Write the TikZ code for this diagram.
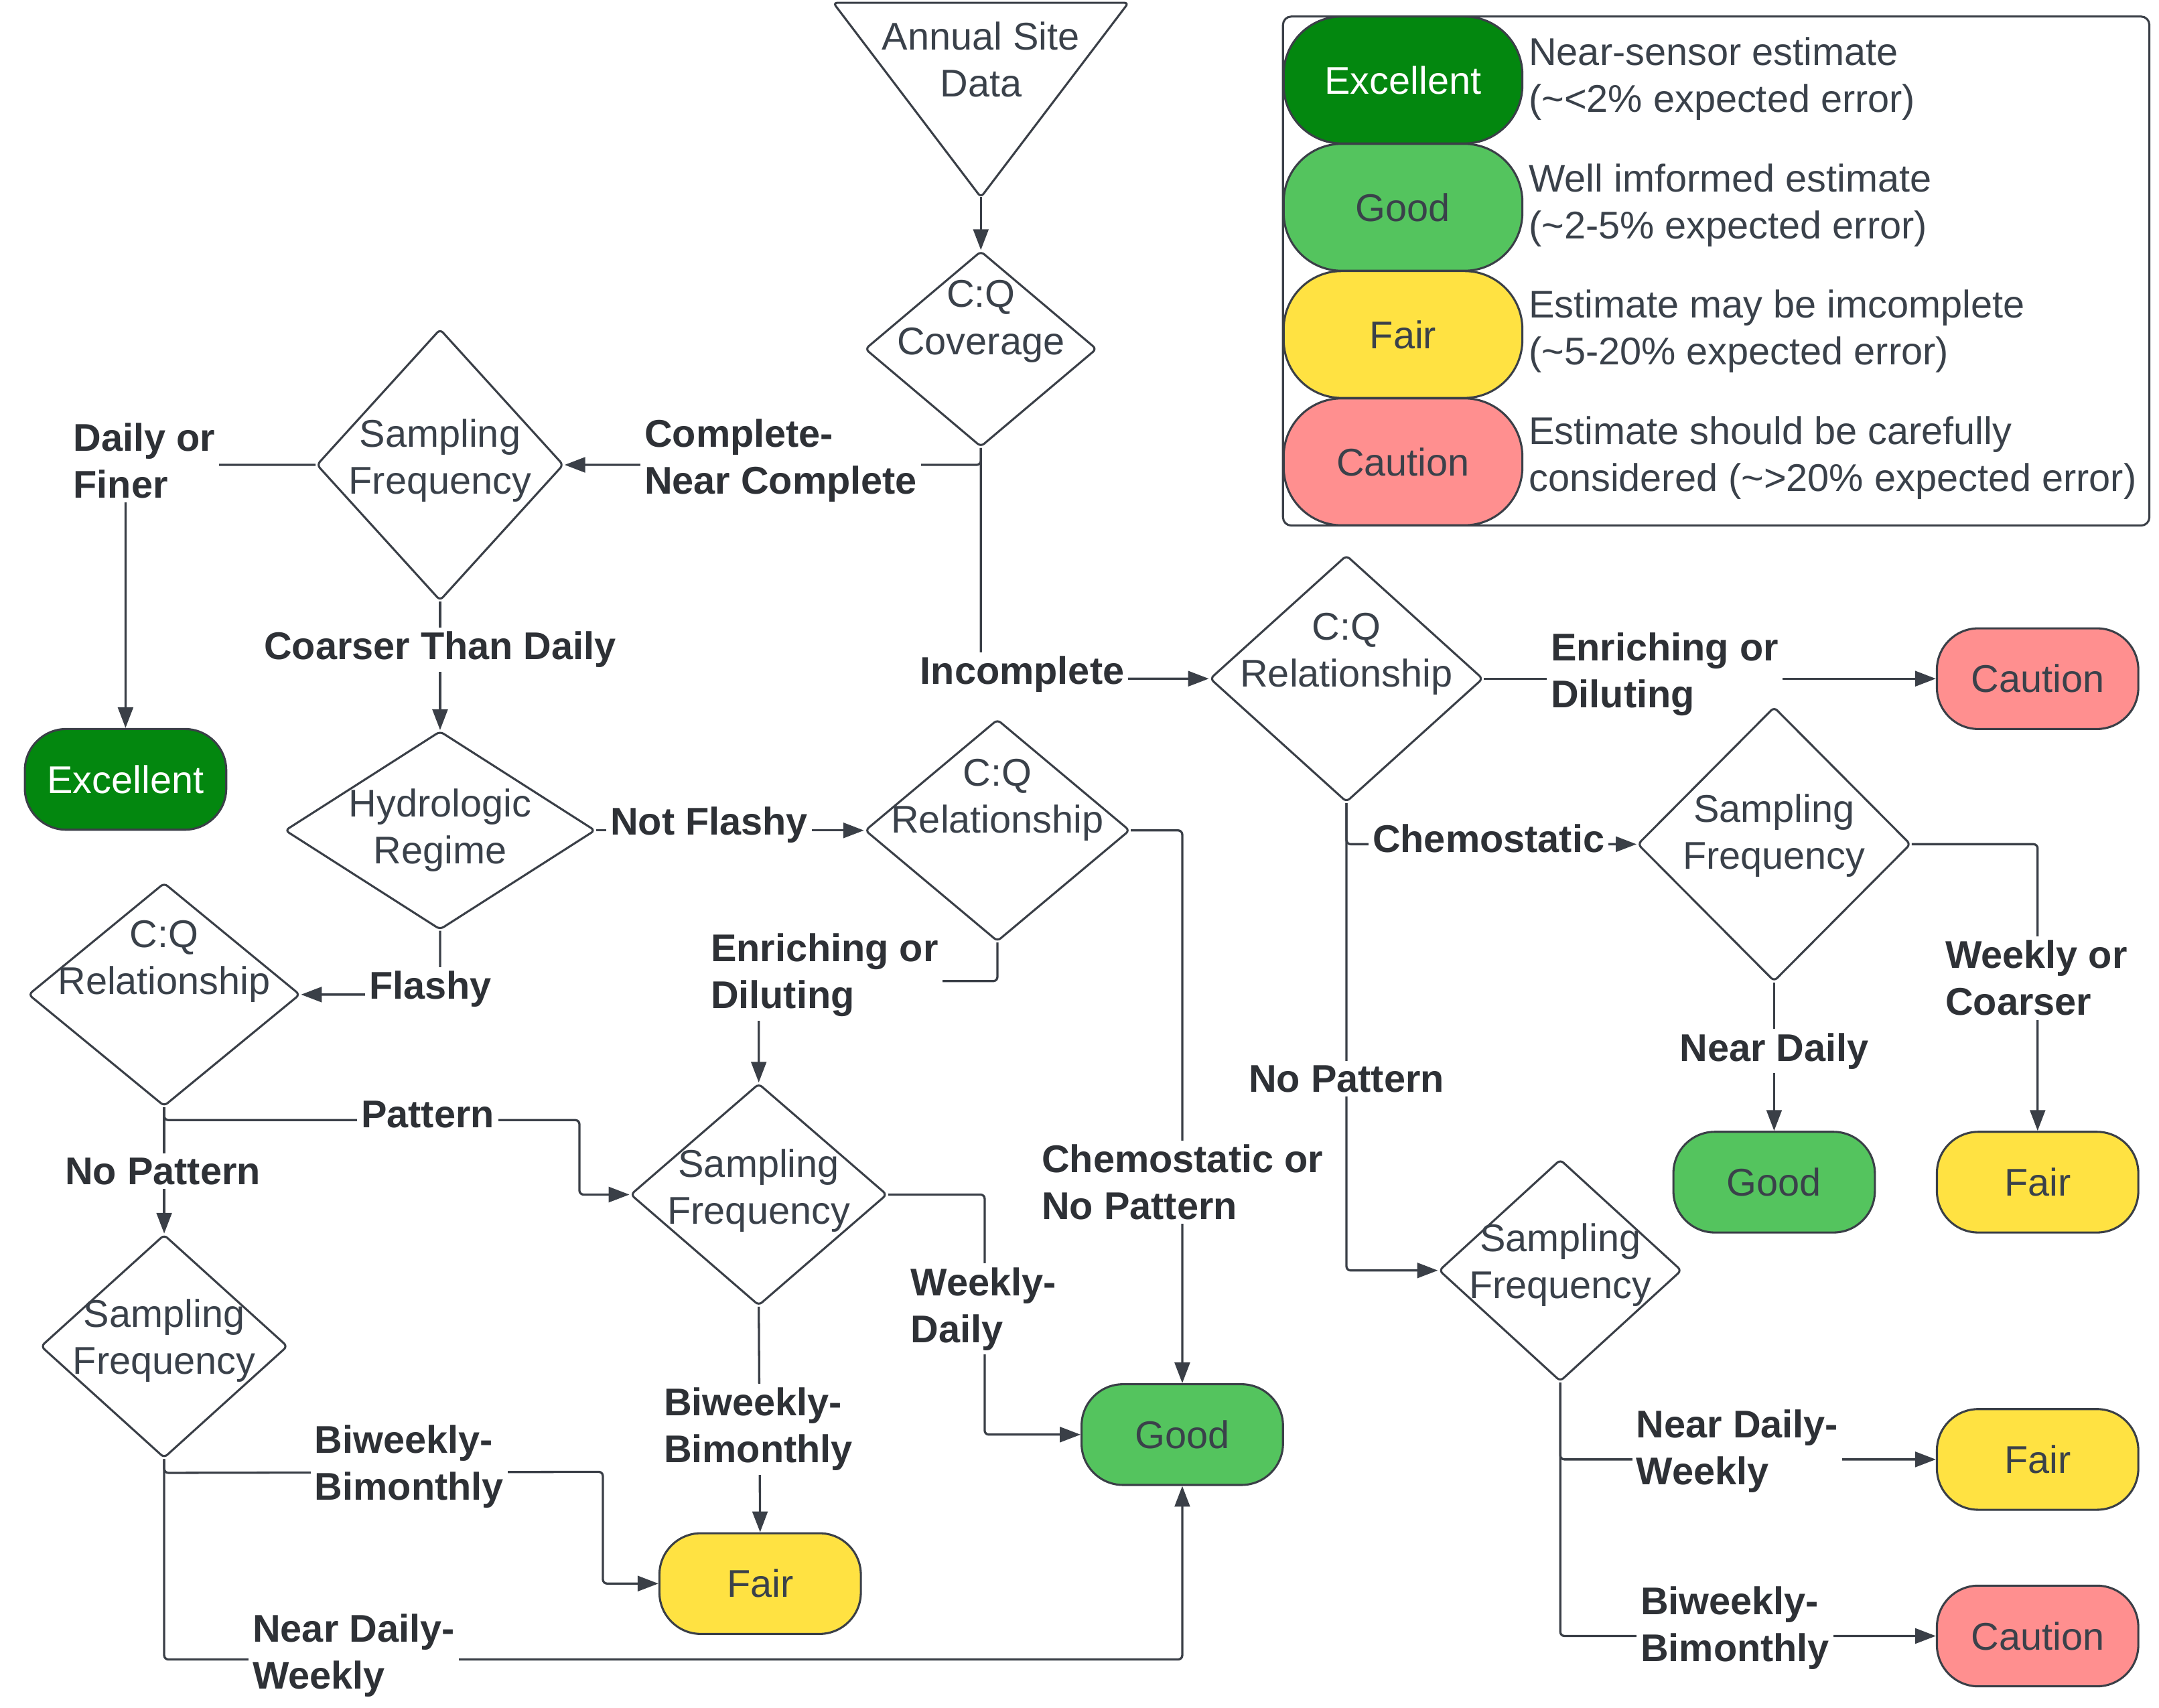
\documentclass[tikz,border=0pt]{standalone}
\usepackage{fontspec}
\setmainfont{Liberation Sans}
\usetikzlibrary{shapes.geometric,arrows.meta,calc}
\pgfdeclarelayer{edges}
\pgfdeclarelayer{labels}
\pgfsetlayers{edges,labels,main}
\definecolor{linec}{HTML}{3A3F47}
\definecolor{txtc}{HTML}{3A414A}
\definecolor{labc}{HTML}{2E3136}
\definecolor{excc}{HTML}{03870F}
\definecolor{goodc}{HTML}{54C45E}
\definecolor{fairc}{HTML}{FFE242}
\definecolor{cautc}{HTML}{FF8F8F}
\begin{document}
\begin{tikzpicture}[x=1pt,y=1pt,
  every node/.style={font=\fontsize{28}{34}\selectfont, text=txtc},
  dia/.style={diamond, draw=linec, line width=1.5pt, inner sep=0pt, rounded corners=3pt, fill=white},
  term/.style={rectangle, draw=linec, line width=1.5pt, rounded corners=30pt, minimum width=146pt, minimum height=73pt, inner sep=0pt},
  legterm/.style={term, minimum width=173pt, minimum height=92pt, rounded corners=42pt},
  conn/.style={draw=linec, line width=1.6pt, rounded corners=3pt, -{Triangle[length=15pt,width=11pt]}},
  lab/.style={fill=white, font=\fontsize{28}{34}\selectfont\bfseries, text=labc, inner sep=3pt, align=left},
  dtext/.style={align=center, inner sep=0pt},
  legtext/.style={align=left, anchor=west, inner sep=0pt},
]
\useasboundingbox (0,0) rectangle (1565,-1238);

% ---------- legend ----------
\draw[draw=linec, line width=1.5pt, rounded corners=6pt] (930,-12) rectangle (1558,-381);
\node[legterm, fill=excc, text=white] (lexc) at (1017,-58) {Excellent};
\node[legterm, fill=goodc] (lgood) at (1017,-150.3) {Good};
\node[legterm, fill=fairc] (lfair) at (1017,-242.5) {Fair};
\node[legterm, fill=cautc] (lcaut) at (1017,-334.8) {Caution};
\node[legtext] (t1) at (1108,-57) {Near-sensor estimate\\(\textasciitilde<2\% expected error)};
\node[legtext] (t2) at (1108,-149) {Well imformed estimate\\(\textasciitilde2-5\% expected error)};
\node[legtext] (t3) at (1108,-240) {Estimate may be imcomplete\\(\textasciitilde5-20\% expected error)};
\node[legtext] (t4) at (1108,-332) {Estimate should be carefully\\considered (\textasciitilde>20\% expected error)};

% ---------- start ----------
\draw[draw=linec, line width=1.5pt, rounded corners=3pt, fill=white] (604,-2) -- (818,-2) -- (711,-143) -- cycle;
\coordinate (asdtip) at (711,-143);
\node[dtext] (asd) at (711,-43) {Annual Site\\Data};

% ---------- diamonds ----------
\node[dia, minimum width=168pt, minimum height=142pt] (cov) at (711,-253) {};
\node[dia, minimum width=179pt, minimum height=197pt] (sf1) at (319,-337) {};
\node[dia, minimum width=225pt, minimum height=144pt] (hyd) at (319,-602) {};
\node[dia, minimum width=192pt, minimum height=161pt] (cqm) at (723,-602) {};
\node[dia, minimum width=197pt, minimum height=162pt] (cql) at (119,-721) {};
\node[dia, minimum width=186pt, minimum height=161pt] (sfm) at (550,-866) {};
\node[dia, minimum width=179pt, minimum height=162pt] (sfl) at (119,-976) {};
\node[dia, minimum width=198pt, minimum height=179pt] (cqr) at (976,-492) {};
\node[dia, minimum width=198pt, minimum height=199pt] (sfr1) at (1286,-612) {};
\node[dia, minimum width=176pt, minimum height=161pt] (sfr2) at (1131,-921) {};

\node[dtext] at (711,-233) {C:Q\\Coverage};
\node[dtext] at (319,-334) {Sampling\\Frequency};
\node[dtext] at (319,-602) {Hydrologic\\Regime};
\node[dtext] at (723,-580) {C:Q\\Relationship};
\node[dtext] at (119,-697) {C:Q\\Relationship};
\node[dtext] at (550,-863) {Sampling\\Frequency};
\node[dtext] at (119,-972) {Sampling\\Frequency};
\node[dtext] at (976,-474) {C:Q\\Relationship};
\node[dtext] at (1286,-606) {Sampling\\Frequency};
\node[dtext] at (1131,-917) {Sampling\\Frequency};

% ---------- terminals ----------
\node[term, fill=excc, text=white] (exc) at (91,-565) {Excellent};
\node[term, fill=goodc] (goodm) at (857,-1040) {Good};
\node[term, fill=fairc] (fairm) at (551,-1148) {Fair};
\node[term, fill=cautc] (caut1) at (1477,-492) {Caution};
\node[term, fill=goodc] (goodr) at (1286,-857) {Good};
\node[term, fill=fairc] (fairr) at (1477,-857) {Fair};
\node[term, fill=fairc] (fairr2) at (1477,-1058) {Fair};
\node[term, fill=cautc] (cautr2) at (1477,-1186) {Caution};

% ---------- connectors ----------
\begin{pgfonlayer}{edges}
\draw[conn] (asdtip) -- (cov.north);
\draw[conn] (cov.south) |- (sf1.east);
\draw[conn] (cov.south) |- (cqr.west);
\draw[conn] (sf1.west) -| (exc.north);
\draw[conn] (sf1.south) -- (hyd.north);
\draw[conn] (hyd.east) -- (cqm.west);
\draw[conn] (hyd.south) |- (cql.east);
\draw[conn] (cql.south) |- (420,-812) |- (sfm.west);
\draw[conn] (cql.south) -- (sfl.north);
\draw[conn] (cqm.south) -- ++(0,-28) -| (sfm.north);
\draw[conn] (cqm.east) -| (goodm.north);
\draw[conn] (sfm.east) -- ++(70,0) |- (goodm.west);
\draw[conn] (sfm.south) -- (fairm.north);
\draw[conn] (sfl.south) -- ++(0,-10) -- (437,-1067) |- (fairm.west);
\draw[conn] (sfl.south) -- (119,-1203) -| (goodm.south);
\draw[conn] (cqr.east) -- (caut1.west);
\draw[conn] (cqr.south) |- (sfr1.west);
\draw[conn] (cqr.south) |- (sfr2.west);
\draw[conn] (sfr1.south) -- (goodr.north);
\draw[conn] (sfr1.east) -| (fairr.north);
\draw[conn] (sfr2.south) |- (fairr2.west);
\draw[conn] (sfr2.south) |- (cautr2.west);
\end{pgfonlayer}

% ---------- labels ----------
\begin{pgfonlayer}{labels}
\node[lab, anchor=west] (l1) at (464,-334) {Complete-\\Near Complete};
\node[lab, anchor=west] (l2) at (50,-334) {Daily or\\Finer};
\node[lab] (l3) at (319,-471) {Coarser Than Daily};
\node[lab] (l4) at (741,-489) {Incomplete};
\node[lab] (l5) at (514,-598) {Not Flashy};
\node[lab] (l6) at (312,-717) {Flashy};
\node[lab] (l7) at (310,-808) {Pattern};
\node[lab] (l8) at (118,-849) {No Pattern};
\node[lab, anchor=west] (l9) at (512,-707) {Enriching or\\Diluting};
\node[lab, anchor=west] (l10) at (752,-857) {Chemostatic or\\No Pattern};
\node[lab, anchor=west] (l11) at (657,-949) {Weekly-\\Daily};
\node[lab, anchor=west] (l12) at (478,-1036) {Biweekly-\\Bimonthly};
\node[lab, anchor=west] (l13) at (225,-1063) {Biweekly-\\Bimonthly};
\node[lab, anchor=west] (l14) at (180,-1200) {Near Daily-\\Weekly};
\node[lab, anchor=west] (l15) at (1121,-489) {Enriching or\\Diluting};
\node[lab] (l16) at (1079,-608) {Chemostatic};
\node[lab] (l17) at (976,-782) {No Pattern};
\node[lab] (l18) at (1286,-762) {Near Daily};
\node[lab, anchor=west] (l19) at (1407,-709) {Weekly or\\Coarser};
\node[lab, anchor=west] (l20) at (1183,-1052) {Near Daily-\\Weekly};
\node[lab, anchor=west] (l21) at (1186,-1180) {Biweekly-\\Bimonthly};
\end{pgfonlayer}
\end{tikzpicture}
\end{document}
